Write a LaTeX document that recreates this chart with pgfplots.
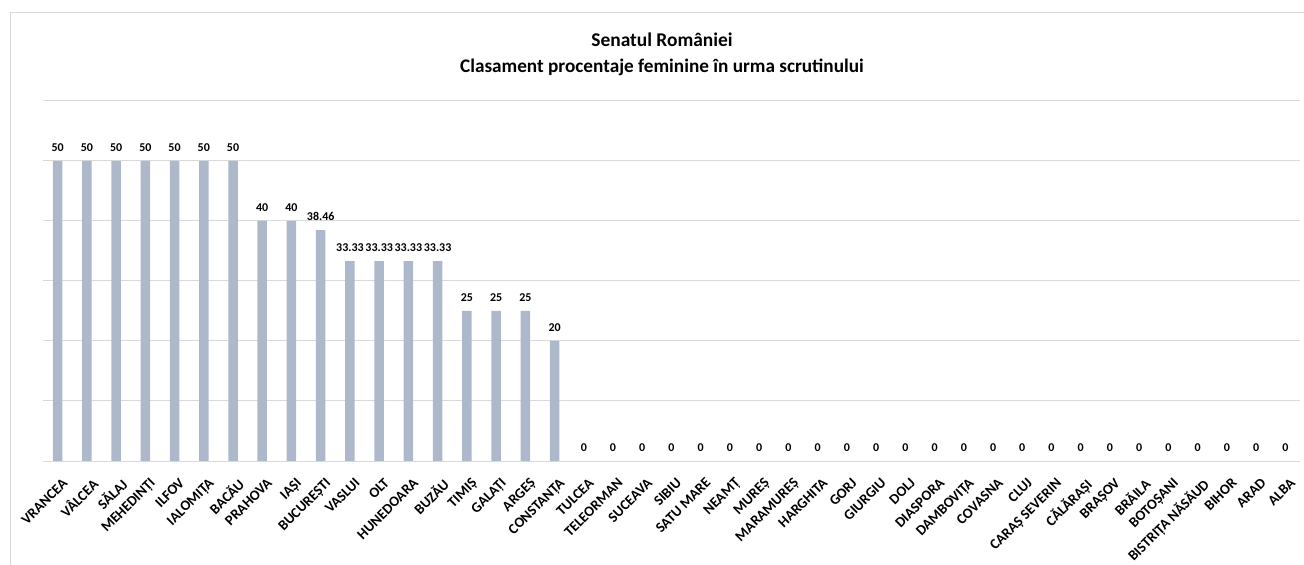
\documentclass[border=0pt]{standalone}
\usepackage{pgfplots}
\pgfplotsset{compat=1.18}
\usepackage{fontspec}
\setmainfont{Carlito}
\definecolor{barc}{HTML}{ADB9CA}
\definecolor{gridc}{HTML}{D9D9D9}
\begin{document}
\begin{tikzpicture}
\path[use as bounding box] (0,0) rectangle (1304bp,565bp);
\draw[gridc, line width=1bp] (10.5bp,-2bp) -- (10.5bp,552.5bp) -- (1306bp,552.5bp);
\begin{axis}[
  at={(43bp,104bp)}, anchor=south west,
  scale only axis, width=1257bp, height=360bp,
  xmin=-0.5, xmax=42.5, ymin=0, ymax=60,
  ytick={0,10,...,60}, yticklabels={},
  ymajorgrids, grid style={gridc, line width=1bp},
  axis line style={draw=none},
  major tick length=0pt,
  xtick={0,...,42},
  xticklabels={VRANCEA,VÂLCEA,SĂLAJ,MEHEDINȚI,ILFOV,IALOMIȚA,BACĂU,PRAHOVA,IAȘI,BUCUREȘTI,VASLUI,OLT,HUNEDOARA,BUZĂU,TIMIȘ,GALAȚI,ARGEȘ,CONSTANȚA,TULCEA,TELEORMAN,SUCEAVA,SIBIU,SATU MARE,NEAMȚ,MUREȘ,MARAMUREȘ,HARGHITA,GORJ,GIURGIU,DOLJ,DIASPORA,DAMBOVIȚA,COVASNA,CLUJ,CARAȘ SEVERIN,CĂLĂRAȘI,BRAȘOV,BRĂILA,BOTOȘANI,BISTRIȚA NĂSĂUD,BIHOR,ARAD,ALBA},
  x tick label style={xshift=4bp, yshift=-16bp, rotate=45, anchor=north east, inner sep=0pt},
  tick label style={font=\bfseries\fontsize{14.5}{14.5}\selectfont},
  ybar, bar width=9.5bp,
  nodes near coords,
  nodes near coords style={font=\bfseries\fontsize{12}{12}\selectfont, /pgf/number format/assume math mode=true, /pgf/number format/precision=2, inner sep=0pt, anchor=south, yshift=9bp},
]
\addplot[fill=barc, draw=none] coordinates {
(0,50) (1,50) (2,50) (3,50) (4,50) (5,50) (6,50) (7,40) (8,40) (9,38.46)
(10,33.33) (11,33.33) (12,33.33) (13,33.33) (14,25) (15,25) (16,25) (17,20)
(18,0) (19,0) (20,0) (21,0) (22,0) (23,0) (24,0) (25,0) (26,0) (27,0) (28,0)
(29,0) (30,0) (31,0) (32,0) (33,0) (34,0) (35,0) (36,0) (37,0) (38,0) (39,0)
(40,0) (41,0) (42,0)};
\end{axis}
\node[anchor=base, font=\bfseries\fontsize{19.5}{19.5}\selectfont] at (662bp,518.5bp) {Senatul României};
\node[anchor=base, font=\bfseries\fontsize{19.3}{19.3}\selectfont] at (662bp,492.5bp) {Clasament procentaje feminine în urma scrutinului};
\end{tikzpicture}
\end{document}
